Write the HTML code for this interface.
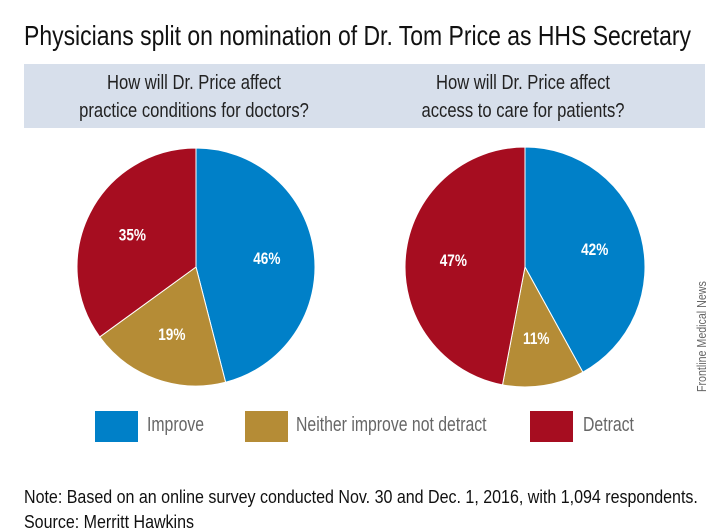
<!DOCTYPE html>
<html><head><meta charset="utf-8"><style>
body{margin:0;background:#fff;font-family:"Liberation Sans",sans-serif;}
#wrap{position:relative;width:720px;height:528px;overflow:hidden;background:#fff;}
.t{position:absolute;white-space:nowrap;transform-origin:0 0;}
</style></head><body>
<div id="wrap">
<div class="t" style="left:24px;top:20px;font-size:28px;color:#111;transform:scaleX(0.82);">Physicians split on nomination of Dr. Tom Price as HHS Secretary</div>
<div style="position:absolute;left:24px;top:64px;width:681px;height:64px;background:#d7dfeb;"></div>
<div class="t" style="left:44px;width:300px;top:69px;text-align:center;font-size:20px;line-height:28px;color:#222;transform:scaleX(0.83);transform-origin:150px 0;">How will Dr. Price affect<br>practice conditions for doctors?</div>
<div class="t" style="left:373px;width:300px;top:69px;text-align:center;font-size:20px;line-height:28px;color:#222;transform:scaleX(0.83);transform-origin:150px 0;">How will Dr. Price affect<br>access to care for patients?</div>
<svg id="pies" width="720" height="528" style="position:absolute;left:0;top:0;"></svg>
<div style="position:absolute;left:95px;top:411px;width:43px;height:31px;background:#0080c8;"></div>
<div class="t" style="left:147px;top:414px;font-size:20px;color:#666;transform:scaleX(0.79);">Improve</div>
<div style="position:absolute;left:245px;top:411px;width:43px;height:31px;background:#b58c36;"></div>
<div class="t" style="left:296px;top:414px;font-size:20px;color:#666;transform:scaleX(0.79);">Neither improve not detract</div>
<div style="position:absolute;left:530px;top:411px;width:43px;height:31px;background:#a60d20;"></div>
<div class="t" style="left:583px;top:414px;font-size:20px;color:#666;transform:scaleX(0.79);">Detract</div>
<div class="t" style="left:24px;top:487px;font-size:18px;color:#111;transform:scaleX(0.89);">Note: Based on an online survey conducted Nov. 30 and Dec. 1, 2016, with 1,094 respondents.</div>
<div class="t" style="left:24px;top:512px;font-size:18px;color:#111;transform:scaleX(0.89);">Source: Merritt Hawkins</div>
<div class="t" style="left:694px;top:392px;font-size:13px;color:#666;transform:rotate(-90deg) scaleX(0.82);">Frontline Medical News</div>
</div>
<script>
const categories=["Improve","Neither","Detract"];
const leftValues=[46,19,35];
const rightValues=[42,11,47];
const colors=["#0080c8","#b58c36","#a60d20"];
const svg=document.getElementById('pies');
const NS="http://www.w3.org/2000/svg";
function pie(vals,cx,cy,r,name){
  const tot=vals.reduce((a,b)=>a+b,0);let a0=0;
  vals.forEach((v,i)=>{
    const a1=a0+v/tot*2*Math.PI;
    const p=document.createElementNS(NS,'path');
    const x0=cx+r*Math.sin(a0),y0=cy-r*Math.cos(a0),x1=cx+r*Math.sin(a1),y1=cy-r*Math.cos(a1);
    const large=(a1-a0)>Math.PI?1:0;
    p.setAttribute('d',`M${cx},${cy}L${x0},${y0}A${r},${r} 0 ${large} 1 ${x1},${y1}Z`);
    p.setAttribute('fill',colors[i]);p.setAttribute('stroke','#fff');p.setAttribute('stroke-width','1');
    
    
    svg.appendChild(p);
    const m=(a0+a1)/2,k=r*0.6;
    const lx=cx+k*Math.sin(m),ly=cy-k*Math.cos(m)+6;
    const t=document.createElementNS(NS,'text');
    t.setAttribute('x',lx/0.8);t.setAttribute('y',ly);
    t.setAttribute('transform','scale(0.8,1)');
    t.setAttribute('text-anchor','middle');t.setAttribute('fill','#fff');
    t.setAttribute('font-size','17');t.setAttribute('font-family','"Liberation Sans",sans-serif');t.setAttribute('font-weight','bold');
    t.textContent=v+'%';
    
    
    svg.appendChild(t);
    a0=a1;
  });
}
pie(leftValues,196,267,119,'left-pie');
pie(rightValues,525,267,120,'right-pie');
</script>
</body></html>
